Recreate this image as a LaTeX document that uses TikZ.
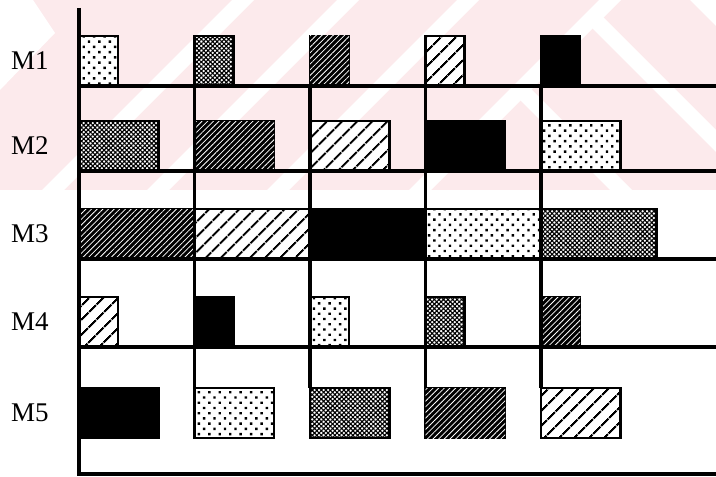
\documentclass[tikz,border=0pt]{standalone}
\usepackage{fontspec}
\setmainfont{Liberation Serif}
\usetikzlibrary{patterns.meta,positioning}
\definecolor{wmpink}{HTML}{FCEAEC}
\tikzset{
  job/.style={rectangle, draw=black, line width=1.3pt, inner sep=0pt, outer sep=0pt,
              anchor=south west, minimum height=25pt},
  pdots/.style={job, preaction={fill=white}, pattern={Dots[angle=45, distance=3.7pt, radius=0.85pt]}},
  pgrid/.style={job, preaction={fill=white}, pattern={Hatch[angle=45, distance=1.6pt, line width=0.55pt]}},
  pdense/.style={job, fill=black, postaction={pattern={Lines[angle=45, distance=2pt, line width=0.4pt]}, pattern color=white}},
  psparse/.style={job, preaction={fill=white}, pattern={Lines[angle=45, distance=5.4pt, line width=1.1pt]}},
  pblack/.style={job, fill=black},
  axe/.style={line width=1.7pt, draw=black},
  lab/.style={font=\fontsize{13.5}{16}\selectfont, inner sep=0pt},
}
\begin{document}
\begin{tikzpicture}[x=0.5pt, y=-0.5pt]
  \useasboundingbox (0,0) rectangle (716,476);
  % watermark
  \begin{scope}
    \clip (0,0) rectangle (716,190);
    \fill[wmpink] (0,0) rectangle (716,190);
    \fill[white] (0,0) -- (33,0) -- (55,33) -- (0,90) -- cycle;
    \foreach \a in {232,337,457,599}
      \fill[white] (\a,0) -- ({\a+22},0) -- ({\a+22-190},190) -- ({\a-190},190) -- cycle;
    \fill[white] (588,24) -- (599,13) -- (776,190) -- (754,190) -- cycle;
    \fill[white] (516,96) -- (527,85) -- (632,190) -- (610,190) -- cycle;
    \fill[white] (690,0) -- (716,0) -- (716,26) -- cycle;
  \end{scope}
  % jobs on each machine
  \foreach \r/\y/\w/\pats in {1/86/39/{pdots,pgrid,pdense,psparse,pblack},
                              2/171/79.5/{pgrid,pdense,psparse,pblack,pdots},
                              3/259/115.5/{pdense,psparse,pblack,pdots,pgrid},
                              4/347/39/{psparse,pblack,pdots,pgrid,pdense},
                              5/438/79.5/{pblack,pdots,pgrid,pdense,psparse}}
    \foreach \p [count=\c from 0] in \pats
      \node[\p, minimum width=\w*0.5pt] (m\r-\c) at ({79+115.5*\c},\y) {};
  % axes and grid
  \coordinate (top) at (79,8);
  \coordinate (orig) at (79,474);
  \coordinate (fin) at (716,474);
  \draw[axe] (top) -- (orig) -- (fin);
  \foreach \r in {1,...,4}
    \draw[axe] (m\r-0.south west) -- (m\r-0.south west -| fin);
  \foreach \c in {1,...,4}
    \draw[axe] (m1-\c.south west) -- (m5-\c.north west);
  % machines
  \foreach \r in {1,...,5}
    \node[lab, left=15pt of m\r-0.west] (lab\r) {M\r};
\end{tikzpicture}
\end{document}
